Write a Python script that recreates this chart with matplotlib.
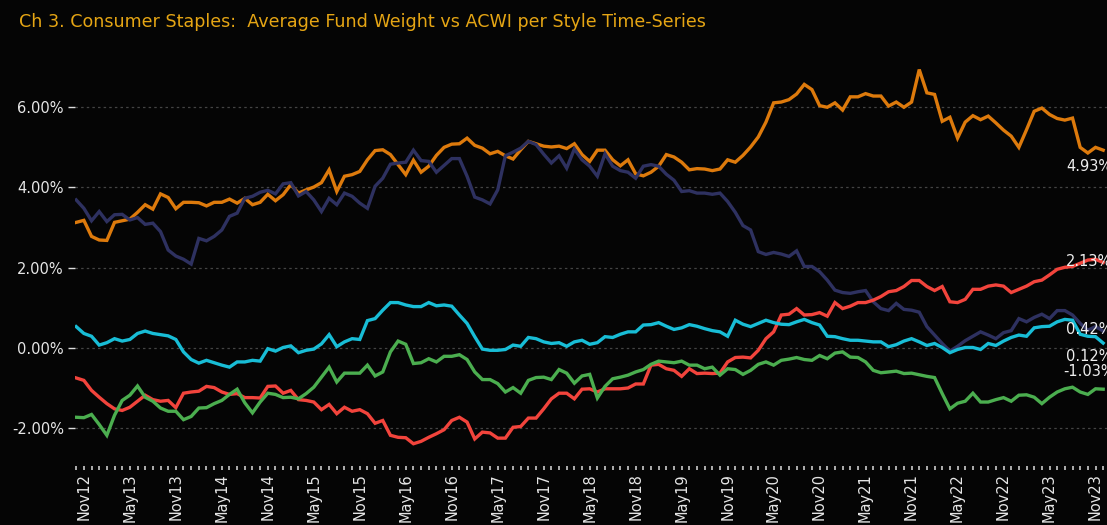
import matplotlib
matplotlib.use("Agg")
import matplotlib.pyplot as plt
import pandas as pd

plt.rcParams["font.family"] = ["DejaVu Sans Condensed", "DejaVu Sans"]

# monthly observations, Oct 2012 .. Dec 2023
months = pd.date_range("2012-10-01", "2023-12-01", freq="MS")

orange = [3.13, 3.18, 2.78, 2.69, 2.68, 3.13, 3.17, 3.21, 3.38, 3.57, 3.46, 3.84, 3.75, 3.47, 3.63, 3.63,
          3.62, 3.54, 3.63, 3.63, 3.71, 3.61, 3.73, 3.57, 3.63, 3.83, 3.67, 3.82, 4.07, 3.86, 3.94, 4.01,
          4.12, 4.44, 3.90, 4.28, 4.32, 4.40, 4.69, 4.92, 4.94, 4.82, 4.57, 4.32, 4.68, 4.38, 4.53, 4.80,
          5.00, 5.08, 5.09, 5.23, 5.05, 4.98, 4.84, 4.90, 4.79, 4.71, 4.94, 5.15, 5.09, 5.03, 5.01, 5.03,
          4.97, 5.09, 4.82, 4.65, 4.93, 4.93, 4.69, 4.54, 4.69, 4.34, 4.29, 4.38, 4.53, 4.82, 4.76, 4.63,
          4.44, 4.47, 4.46, 4.42, 4.46, 4.69, 4.63, 4.80, 5.01, 5.26, 5.63, 6.11, 6.13, 6.19, 6.33, 6.57,
          6.44, 6.04, 6.00, 6.11, 5.93, 6.26, 6.26, 6.34, 6.28, 6.28, 6.03, 6.13, 6.00, 6.13, 6.94, 6.36,
          6.32, 5.65, 5.75, 5.23, 5.63, 5.79, 5.69, 5.78, 5.61, 5.43, 5.28, 5.00, 5.44, 5.90, 5.98, 5.82,
          5.72, 5.68, 5.73, 5.00, 4.86, 5.00, 4.93]
navy = [3.69, 3.48, 3.17, 3.40, 3.15, 3.32, 3.33, 3.19, 3.25, 3.08, 3.11, 2.90, 2.44, 2.29, 2.21, 2.09,
        2.73, 2.67, 2.78, 2.94, 3.28, 3.36, 3.73, 3.78, 3.88, 3.93, 3.84, 4.09, 4.12, 3.79, 3.90, 3.69,
        3.40, 3.73, 3.57, 3.86, 3.78, 3.61, 3.48, 4.03, 4.23, 4.58, 4.61, 4.63, 4.93, 4.67, 4.65, 4.38,
        4.55, 4.72, 4.72, 4.28, 3.76, 3.69, 3.59, 3.94, 4.79, 4.88, 4.98, 5.15, 5.07, 4.83, 4.61, 4.79,
        4.48, 4.96, 4.69, 4.53, 4.28, 4.84, 4.53, 4.42, 4.38, 4.23, 4.53, 4.57, 4.53, 4.33, 4.18, 3.90,
        3.92, 3.86, 3.86, 3.83, 3.86, 3.65, 3.38, 3.05, 2.94, 2.40, 2.33, 2.38, 2.34, 2.28, 2.42, 2.03,
        2.03, 1.90, 1.69, 1.44, 1.38, 1.36, 1.40, 1.43, 1.15, 0.98, 0.93, 1.11, 0.96, 0.94, 0.89, 0.53,
        0.32, 0.11, -0.08, 0.04, 0.18, 0.29, 0.40, 0.32, 0.23, 0.38, 0.43, 0.73, 0.65, 0.76, 0.84, 0.73,
        0.93, 0.93, 0.82, 0.61, 0.44, 0.53, 0.42]
cyan = [0.53, 0.36, 0.29, 0.07, 0.13, 0.23, 0.17, 0.21, 0.36, 0.42, 0.36, 0.33, 0.30, 0.21, -0.10, -0.29,
        -0.38, -0.31, -0.37, -0.43, -0.48, -0.35, -0.35, -0.31, -0.33, -0.02, -0.08, 0.01, 0.05, -0.12,
        -0.06, -0.03, 0.10, 0.33, 0.03, 0.15, 0.23, 0.21, 0.68, 0.73, 0.94, 1.13, 1.13, 1.07, 1.03, 1.03,
        1.13, 1.05, 1.07, 1.04, 0.82, 0.61, 0.28, -0.03, -0.06, -0.06, -0.04, 0.07, 0.04, 0.26, 0.23,
        0.15, 0.11, 0.13, 0.04, 0.15, 0.19, 0.09, 0.13, 0.28, 0.26, 0.34, 0.40, 0.40, 0.57, 0.58, 0.63,
        0.54, 0.46, 0.50, 0.58, 0.54, 0.48, 0.43, 0.40, 0.29, 0.69, 0.59, 0.53, 0.61, 0.69, 0.63, 0.59,
        0.58, 0.65, 0.71, 0.63, 0.57, 0.29, 0.28, 0.23, 0.19, 0.19, 0.17, 0.15, 0.15, 0.03, 0.08, 0.17,
        0.23, 0.15, 0.06, 0.11, 0.01, -0.12, -0.04, 0.01, 0.01, -0.04, 0.11, 0.06, 0.17, 0.26, 0.32,
        0.29, 0.50, 0.53, 0.54, 0.65, 0.71, 0.69, 0.34, 0.29, 0.28, 0.12]
red = [-0.75, -0.81, -1.06, -1.23, -1.39, -1.52, -1.56, -1.48, -1.33, -1.18, -1.29, -1.33, -1.31, -1.49,
       -1.13, -1.10, -1.08, -0.96, -0.99, -1.10, -1.16, -1.14, -1.24, -1.24, -1.25, -0.96, -0.95, -1.13,
       -1.06, -1.29, -1.31, -1.35, -1.54, -1.41, -1.64, -1.48, -1.58, -1.54, -1.64, -1.88, -1.81, -2.18,
       -2.23, -2.24, -2.39, -2.33, -2.23, -2.14, -2.04, -1.81, -1.73, -1.85, -2.27, -2.10, -2.12, -2.25,
       -2.25, -1.98, -1.96, -1.75, -1.75, -1.52, -1.27, -1.13, -1.13, -1.27, -1.03, -1.02, -1.10, -1.02,
       -1.02, -1.02, -1.00, -0.90, -0.90, -0.43, -0.41, -0.52, -0.56, -0.71, -0.52, -0.64, -0.63, -0.64,
       -0.63, -0.35, -0.24, -0.23, -0.25, -0.06, 0.23, 0.40, 0.82, 0.84, 0.98, 0.82, 0.83, 0.88, 0.79,
       1.13, 0.98, 1.04, 1.13, 1.13, 1.19, 1.28, 1.40, 1.43, 1.53, 1.68, 1.68, 1.53, 1.43, 1.53, 1.15,
       1.13, 1.21, 1.46, 1.46, 1.54, 1.57, 1.54, 1.38, 1.46, 1.54, 1.65, 1.69, 1.82, 1.96, 2.01, 2.03,
       2.11, 2.19, 2.21, 2.13]
green = [-1.73, -1.74, -1.66, -1.91, -2.18, -1.68, -1.31, -1.18, -0.95, -1.23, -1.33, -1.50, -1.58, -1.58,
         -1.79, -1.71, -1.50, -1.49, -1.39, -1.31, -1.16, -1.03, -1.37, -1.62, -1.35, -1.13, -1.16, -1.24,
         -1.23, -1.27, -1.14, -0.98, -0.73, -0.48, -0.85, -0.63, -0.63, -0.63, -0.43, -0.70, -0.60, -0.10,
         0.17, 0.09, -0.39, -0.37, -0.27, -0.35, -0.21, -0.21, -0.17, -0.29, -0.60, -0.79, -0.79, -0.89,
         -1.10, -0.99, -1.13, -0.81, -0.74, -0.73, -0.79, -0.54, -0.63, -0.88, -0.70, -0.66, -1.25, -0.96,
         -0.77, -0.73, -0.68, -0.60, -0.54, -0.41, -0.33, -0.35, -0.37, -0.33, -0.43, -0.43, -0.52, -0.48,
         -0.68, -0.52, -0.54, -0.66, -0.56, -0.41, -0.35, -0.43, -0.31, -0.28, -0.24, -0.29, -0.31, -0.19,
         -0.27, -0.13, -0.10, -0.23, -0.24, -0.35, -0.56, -0.62, -0.60, -0.58, -0.64, -0.63, -0.67, -0.71,
         -0.74, -1.14, -1.52, -1.38, -1.33, -1.13, -1.35, -1.35, -1.29, -1.24, -1.33, -1.18, -1.17, -1.23,
         -1.39, -1.23, -1.10, -1.02, -0.98, -1.10, -1.16, -1.02, -1.03]

series = [
    (orange, "#dd7a0c", -0.41),
    (navy, "#2e3160", 0.03),
    (red, "#f2443c", 0.02),
    (cyan, "#18bdd6", -0.34),
    (green, "#4bae4f", 0.43),
]

bg = "#050505"
fig = plt.figure(figsize=(11.07, 5.25), dpi=100, facecolor=bg)
ax = fig.add_axes([0.0678, 0.112, 0.9322, 0.783])
ax.set_facecolor(bg)

x = list(range(len(months)))
for vals, col, off in series:
    ax.plot(x, vals, color=col, lw=2.4, solid_joinstyle="miter", zorder=3)
    ax.text(132.2, vals[-1] + off, "%.2f%%" % vals[-1], color="#eeeeee", fontsize=10.5,
            ha="center", va="center", zorder=4, clip_on=False)

ax.set_xlim(-0.15, 134.5)
ax.set_ylim(-2.95, 7.3)

yt = [-2, 0, 2, 4, 6]
ax.set_yticks(yt)
ax.set_yticklabels(["%.2f%%" % v for v in yt], color="#e6e6e6", fontsize=10.5)
for v in yt:
    ax.axhline(v, color="#444444", lw=0.9, ls=(0, (2, 2.5)), zorder=1)

ax.set_xticks(x)
ax.set_xticklabels([m.strftime("%b%y") if m.month in (5, 11) else "" for m in months],
                   rotation=90, color="#e6e6e6", fontsize=10.5)
ax.tick_params(axis="x", length=3, width=1.3, color="#bbbbbb", pad=2)
ax.tick_params(axis="y", length=5, width=1, color="#dddddd", pad=3)
for s in ax.spines.values():
    s.set_visible(False)

fig.text(0.017, 1 - 22 / 525, "Ch 3. Consumer Staples:  Average Fund Weight vs ACWI per Style Time-Series",
         color="#e5a514", fontsize=12.6, va="center", ha="left")

fig.savefig("out.png", dpi=100, facecolor=bg)
